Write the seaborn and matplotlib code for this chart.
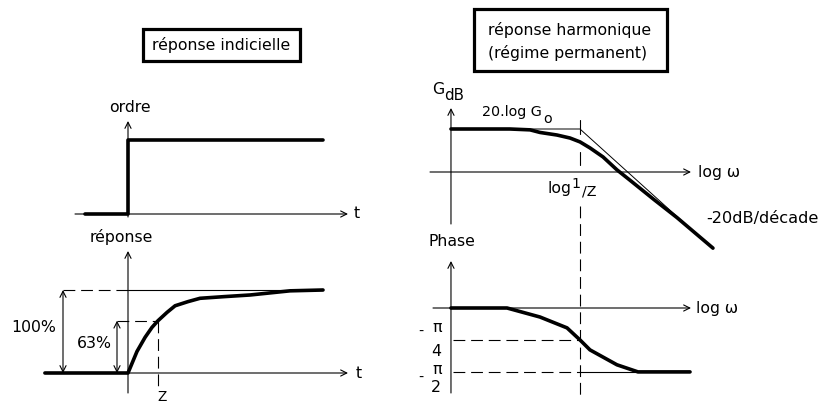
import numpy as np
import pandas as pd
import matplotlib
matplotlib.use("Agg")
import matplotlib.pyplot as plt
import seaborn as sns
from matplotlib.patches import Rectangle

# ---------------- data ----------------
# step input (time in units of tau)
step_t = [-1.43, 0.0, 6.5]
step_val = [0.0, 1.0, 1.0]
# first-order step response (fraction of final value)
resp_t = [-2.77, 0.0, 0.3, 0.57, 0.8, 1.0, 1.3, 1.57, 2.0, 2.4, 3.2, 4.07, 5.4, 6.5]
resp_val = [0.0, 0.0, 0.26, 0.43, 0.55, 0.63, 0.73, 0.81, 0.86, 0.90, 0.92, 0.94, 0.99, 1.0]
# Bode gain (u = log10(omega*tau), dB)
gain_u = [-1.344, -0.73, -0.52, -0.417, -0.24, -0.104, 0.0, 0.104, 0.24, 0.385,
          0.52, 0.77, 1.01, 1.385]
gain_db = [10.0, 10.0, 9.8, 9.2, 8.6, 7.9, 7.0, 5.6, 3.5, 0.5,
           -1.9, -6.4, -10.6, -17.7]
asym_u = [-1.344, 0.0, 1.385]
asym_db = [10.0, 10.0, -17.9]
# Bode phase (degrees)
phase_u = [-1.344, -0.76, -0.417, -0.135, 0.0, 0.104, 0.385, 0.604, 1.146]
phase_deg = [0.0, 0.0, -12.7, -28.0, -45.0, -59.0, -80.0, -90.0, -90.0]

W, H = 823, 405
sns.set_theme(style="white")
plt.rcParams['font.family'] = ['DejaVu Sans']
plt.rcParams['lines.scale_dashes'] = False
FS = 11.3
K = 'black'
THICK = 2.6
THIN = 0.8
DASH = (0, (8.5, 4.2))

fig = plt.figure(figsize=(W / 100, H / 100), dpi=100)
fig.patch.set_facecolor('white')


def panel(box, origin, sx, sy):
    x0, y0, x1, y1 = box
    ax = fig.add_axes([x0 / W, 1 - y1 / H, (x1 - x0) / W, (y1 - y0) / H])
    ox, oy = origin
    ax.set_xlim((x0 - ox) / sx, (x1 - ox) / sx)
    ax.set_ylim((oy - y1) / sy, (oy - y0) / sy)
    ax.axis('off')
    fx = lambda px: (px - ox) / sx
    fy = lambda py: (oy - py) / sy
    return ax, fx, fy


def arrow(ax, p0, p1, style='->'):
    ax.annotate('', xy=p1, xytext=p0, annotation_clip=False,
                arrowprops=dict(arrowstyle=style, lw=THIN, color=K,
                                shrinkA=0, shrinkB=0, mutation_scale=11))


def ftext(x, y, s, ha='center', va='center', size=FS, **kw):
    fig.text(x / W, 1 - y / H, s, ha=ha, va=va, fontsize=size, color=K, **kw)


def box(x0, y0, x1, y1):
    fig.add_artist(Rectangle((x0 / W, 1 - y1 / H), (x1 - x0) / W, (y1 - y0) / H,
                             transform=fig.transFigure, fill=False, lw=2.3, ec=K))


# ---------------- titles ----------------
box(143, 29, 300, 61)
ftext(221, 45, "réponse indicielle")
box(474, 9, 667, 71)
ftext(488, 30, "réponse harmonique", ha='left')
ftext(488, 53, "(régime permanent)", ha='left')

# ---------------- panel A: step input ----------------
axA, ax_, ay_ = panel((30, 100, 365, 225), (128, 214), 30, 74)
arrow(axA, (ax_(75), 0), (ax_(348), 0))
arrow(axA, (0, ay_(217)), (0, ay_(121)))
sns.lineplot(x=step_t, y=step_val, ax=axA, color=K, lw=THICK,
             drawstyle='steps-post', sort=False, estimator=None)
ftext(130, 108, "ordre")
ftext(357, 213, "t")

# ---------------- panel B: step response ----------------
axB, bx_, by_ = panel((0, 225, 365, 405), (128, 373), 30, 83)
arrow(axB, (bx_(45), 0), (bx_(348), 0))
arrow(axB, (0, by_(393)), (0, by_(251)))
axB.plot([0, 6.5], [1, 1], color=K, lw=THIN)
axB.plot([bx_(63), 0], [1, 1], color=K, lw=THIN, ls=DASH)
axB.plot([bx_(117), 1], [0.63, 0.63], color=K, lw=THIN, ls=DASH)
axB.plot([1, 1], [0.63, by_(390)], color=K, lw=THIN, ls=DASH)
arrow(axB, (bx_(63), 0), (bx_(63), 1), '<->')
arrow(axB, (bx_(117), 0), (bx_(117), 0.63), '<->')
sns.lineplot(x=resp_t, y=resp_val, ax=axB, color=K, lw=THICK, sort=False,
             estimator=None)
ftext(121, 237, "réponse")
ftext(34, 328, "100%")
ftext(94, 343, "63%")
ftext(359, 373, "t")
ftext(162, 404, "Z", va='bottom', size=FS - 1.5)

# ---------------- panel C: gain ----------------
axC, cx_, cy_ = panel((415, 85, 823, 262), (580, 172), 96, 4.3)
arrow(axC, (cx_(430), 0), (cx_(691), 0))
arrow(axC, (asym_u[0], cy_(224)), (asym_u[0], cy_(108)))
sns.lineplot(x=asym_u, y=asym_db, ax=axC, color=K, lw=0.7, sort=False,
             estimator=None)
axC.plot([0, 0], [cy_(120), cy_(134)], color=K, lw=THIN)
axC.plot([0, 0], [cy_(152), cy_(165)], color=K, lw=THIN)
sns.lineplot(x=gain_u, y=gain_db, ax=axC, color=K, lw=THICK, sort=False,
             estimator=None)
ftext(438, 90, "G")
ftext(444, 96, "dB", ha='left', size=FS - 0.5)
ftext(482, 112, "20.log G", ha='left', size=FS - 1)
ftext(543, 119, "o", ha='left', size=FS - 1)
ftext(698, 172, "log ω", ha='left')
ftext(559, 189, "log", ha='center')
ftext(576, 184, "1", ha='center', size=FS - 1)
ftext(589, 191, "/Z", ha='center', size=FS - 1)
ftext(706, 218, "-20dB/décade", ha='left', size=FS + 0.3)

# ---------------- panel D: phase ----------------
axD, dx_, dy_ = panel((415, 255, 823, 405), (580, 308), 96, 0.71)
arrow(axD, (dx_(433), 0), (dx_(691), 0))
arrow(axD, (phase_u[0], dy_(393)), (phase_u[0], dy_(261)))
axD.plot([dx_(453), 0], [-45, -45], color=K, lw=THIN, ls=DASH)
axD.plot([dx_(453), 0], [-90, -90], color=K, lw=THIN, ls=DASH)
axD.plot([0, dx_(690)], [-90, -90], color=K, lw=THIN)
axD.plot([0, 0], [dy_(206), dy_(396)], color=K, lw=THIN, ls=DASH, clip_on=False)
sns.lineplot(x=phase_u, y=phase_deg, ax=axD, color=K, lw=THICK, sort=False,
             estimator=None)
ftext(452, 242, "Phase")
ftext(696, 308, "log ω", ha='left')
ftext(421, 332, "-", size=FS - 1)
ftext(437, 328, "π", size=FS)
ftext(436, 351, "4", size=FS)
ftext(421, 378, "-", size=FS - 1)
ftext(437, 369, "π", size=FS)
ftext(436, 388, "2", size=FS)

fig.savefig("out.png", dpi=100, facecolor='white')
